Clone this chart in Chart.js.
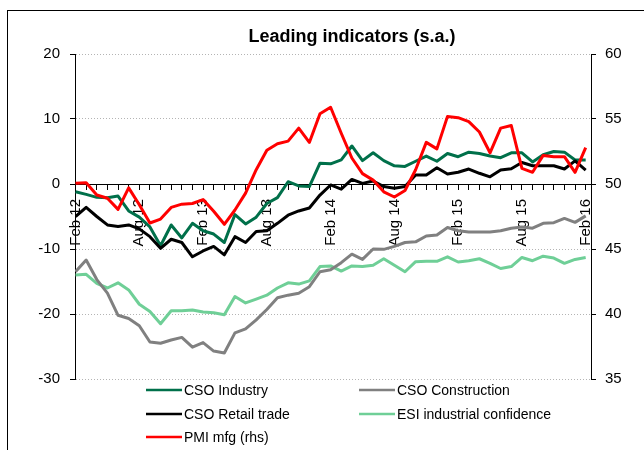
<!DOCTYPE html>
<html>
<head>
<meta charset="utf-8">
<script src="https://cdn.jsdelivr.net/npm/chart.js@4.4.1/dist/chart.umd.min.js"></script>
<style>
    body { margin: 0; background: #fff; }
    #wrap { width: 644px; height: 450px; }
</style>
</head>
<body>
<div id="wrap"><canvas id="leadChart" width="644" height="450"></canvas></div>
<script>
// monthly, Feb 12 .. Feb 16 (49 points)
const tickLabels = ['Feb 12', 'Aug 12', 'Feb 13', 'Aug 13', 'Feb 14', 'Aug 14', 'Feb 15', 'Aug 15', 'Feb 16'];

const csoIndustry = [-1.2, -1.6, -2.05, -2.1, -1.85, -4.15, -5.1, -6.6, -9.5, -6.3, -8.3, -6.05, -7.2,
    -7.7, -9.0, -4.7, -6.15, -5.1, -3.0, -2.1, 0.35, -0.3, -0.4, 3.2, 3.1,
    3.7, 5.85, 3.6, 4.8, 3.6, 2.8, 2.7, 3.5, 4.3, 3.5, 4.7, 4.2,
    4.9, 4.7, 4.3, 4.05, 4.8, 4.8, 3.4, 4.5, 5.0, 4.9, 3.7, 3.7];

const csoConstruction = [-13.5, -11.7, -14.7, -16.8, -20.2, -20.7, -21.8, -24.3, -24.5, -24.0, -23.6, -25.1, -24.4,
    -25.7, -26.0, -22.9, -22.3, -20.9, -19.3, -17.5, -17.1, -16.8, -15.8, -13.5, -13.2,
    -12.1, -10.8, -11.6, -10.0, -10.05, -9.6, -9.0, -8.9, -8.0, -7.85, -6.7, -7.2,
    -7.4, -7.4, -7.4, -7.2, -6.8, -6.6, -6.8, -6.05, -5.95, -5.3, -5.9, -4.9];

const csoRetail = [-5.0, -3.6, -5.0, -6.3, -6.55, -6.3, -6.9, -8.1, -9.9, -8.5, -9.0, -11.2, -10.3,
    -9.6, -10.9, -8.1, -9.0, -7.3, -7.2, -6.05, -4.8, -4.15, -3.7, -1.7, -0.15,
    -0.8, 0.7, 0.1, 0.45, -0.4, -0.65, -0.4, 1.4, 1.4, 2.5, 1.55, 1.8,
    2.3, 1.65, 1.1, 2.15, 2.35, 3.3, 2.8, 2.8, 2.8, 2.3, 3.55, 2.15];

const esiConfidence = [-14.0, -13.9, -15.3, -16.0, -15.2, -16.3, -18.5, -19.6, -21.5, -19.5, -19.5, -19.4, -19.7,
    -19.8, -20.1, -17.3, -18.3, -17.7, -17.1, -16.0, -15.2, -15.4, -14.9, -12.7, -12.6,
    -13.4, -12.6, -12.7, -12.5, -11.5, -12.5, -13.5, -11.95, -11.9, -11.9, -11.2, -12.0,
    -11.8, -11.5, -12.2, -13.0, -12.7, -11.3, -11.8, -11.1, -11.4, -12.2, -11.6, -11.3];

// rhs
const pmiMfg = [50.05, 50.1, 49.15, 48.9, 48.05, 49.7, 48.4, 47.0, 47.3, 48.2, 48.45, 48.5, 48.8,
    47.9, 46.9, 48.0, 49.3, 51.1, 52.6, 53.1, 53.3, 54.3, 53.2, 55.4, 55.9,
    53.9, 52.0, 50.8, 50.3, 49.4, 49.0, 49.5, 51.1, 53.2, 52.7, 55.2, 55.1,
    54.8, 54.0, 52.4, 54.3, 54.5, 51.2, 50.9, 52.2, 52.1, 52.1, 50.9, 52.8];

const FONT = "'Liberation Sans', Arial, sans-serif";

function pts(arr) {
    return arr.map((v, i) => ({ x: i, y: v }));
}

function line(label, arr, color, axis, order) {
    return {
        label: label,
        data: pts(arr),
        yAxisID: axis,
        borderColor: color,
        backgroundColor: color,
        borderWidth: 3,
        pointRadius: 0,
        tension: 0,
        borderJoinStyle: 'round',
        order: order
    };
}

// cadre, titre et legende dessines a la main
const decor = {
    id: 'decor',
    beforeDraw(chart) {
        const c = chart.ctx;
        c.save();
        c.fillStyle = '#fff';
        c.fillRect(0, 0, chart.width, chart.height);
        c.strokeStyle = '#000';
        c.lineWidth = 1;
        c.strokeRect(7.5, 10.5, 700, 500);
        c.restore();
    },
    afterDraw(chart) {
        const c = chart.ctx;
        c.save();
        c.fillStyle = '#000';
        c.font = 'bold 18px ' + FONT;
        c.textAlign = 'center';
        c.textBaseline = 'alphabetic';
        c.fillText('Leading indicators (s.a.)', 352, 41.5);

        const ds = chart.data.datasets;
        const slots = [
            [0, 146, 390], [1, 359, 390],
            [2, 146, 414], [3, 359, 414],
            [4, 146, 437]
        ];
        c.font = '14px ' + FONT;
        c.textAlign = 'left';
        c.textBaseline = 'middle';
        slots.forEach(([i, x, y]) => {
            c.strokeStyle = ds[i].borderColor;
            c.lineWidth = 2.5;
            c.beginPath();
            c.moveTo(x, y);
            c.lineTo(x + 36, y);
            c.stroke();
            c.fillStyle = '#000';
            c.fillText(ds[i].label, x + 38, y + 1);
        });
        c.restore();
    }
};

new Chart(document.getElementById('leadChart'), {
    type: 'line',
    data: {
        datasets: [
            line('CSO Industry', csoIndustry, '#00704a', 'y', 3),
            line('CSO Construction', csoConstruction, '#808080', 'y', 4),
            line('CSO Retail trade', csoRetail, '#000000', 'y', 2),
            line('ESI industrial confidence', esiConfidence, '#6fcf97', 'y', 5),
            line('PMI mfg (rhs)', pmiMfg, '#ff0000', 'y2', 1)
        ]
    },
    options: {
        responsive: false,
        animation: false,
        layout: { padding: { left: 0, right: 0, top: 54, bottom: 71 } },
        plugins: {
            legend: { display: false },
            title: { display: false },
            tooltip: { enabled: false }
        },
        scales: {
            x: {
                type: 'linear',
                position: { y: 0 },
                min: -0.05,
                max: 48.5,
                afterFit: (s) => { s.height = 0; },
                grid: {
                    drawOnChartArea: false,
                    drawTicks: true,
                    tickLength: 5,
                    tickColor: '#000',
                    color: '#000'
                },
                border: { display: true, color: '#000', width: 1 },
                ticks: {
                    stepSize: 1,
                    autoSkip: false,
                    includeBounds: false,
                    minRotation: 90,
                    maxRotation: 90,
                    padding: 10,
                    color: '#000',
                    font: { family: FONT, size: 15 },
                    callback: (v) => (v % 6 === 0 ? tickLabels[v / 6] : '')
                }
            },
            y: {
                position: 'left',
                min: -30,
                max: 20,
                afterFit: (s) => { s.width = 75; },
                grid: {
                    color: '#b4b4b4',
                    lineWidth: 1,
                    tickLength: 5,
                    tickColor: '#000',
                    tickBorderDash: [1, 0]
                },
                border: { display: true, color: '#000', width: 1, dash: [1, 2] },
                ticks: {
                    stepSize: 10,
                    padding: 10,
                    color: '#000',
                    font: { family: FONT, size: 15 }
                }
            },
            y2: {
                position: 'right',
                min: 35,
                max: 60,
                afterFit: (s) => { s.width = 53; },
                grid: {
                    drawOnChartArea: false,
                    tickLength: 5,
                    tickColor: '#000'
                },
                border: { display: true, color: '#000', width: 1 },
                ticks: {
                    stepSize: 5,
                    padding: 9,
                    color: '#000',
                    font: { family: FONT, size: 15 }
                }
            }
        }
    },
    plugins: [decor]
});
</script>
</body>
</html>
